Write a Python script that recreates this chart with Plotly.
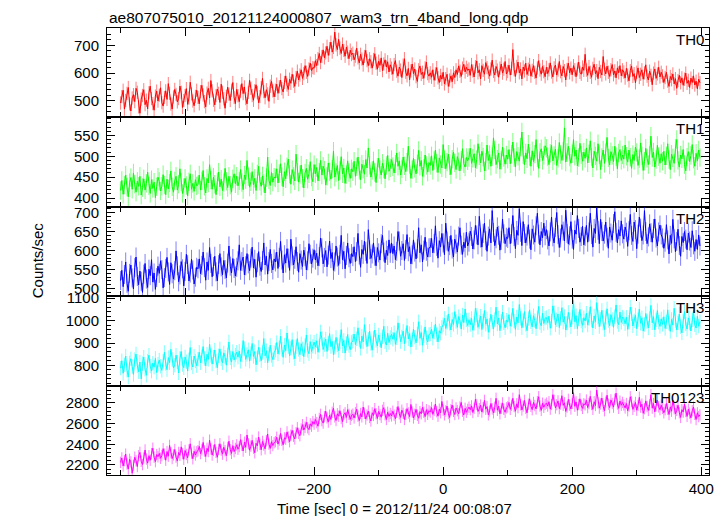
import plotly.graph_objects as go
from plotly.subplots import make_subplots

TITLE = "ae807075010_20121124000807_wam3_trn_4band_long.qdp"
X_TITLE = "Time [sec] 0 = 2012/11/24 00:08:07"
Y_TITLE = "Counts/sec"
BAND_NAMES = ["TH0", "TH1", "TH2", "TH3", "TH0123"]
T_START = -500
BIN_SEC = 2

TH0 = [
    492, 515, 538, 470, 501, 527, 548, 489, 463, 510, 522, 497, 545, 531, 478, 455, 506, 519, 540, 486, 502, 471, 529, 553, 508, 490, 466, 517, 535, 499,
    520, 547, 493, 481, 512, 536, 505, 562, 527, 488, 470, 514, 541, 523, 496, 508, 553, 531, 476, 501, 519, 544, 487, 510, 567, 525, 499, 482, 516, 538,
    512, 489, 533, 556, 521, 497, 478, 528, 545, 510, 573, 536, 502, 485, 519, 542, 527, 494, 560, 531, 507, 473, 516, 549, 524, 501, 538, 566, 512, 490,
    541, 518, 497, 535, 562, 526, 550, 508, 489, 530, 574, 545, 519, 502, 536, 558, 529, 493, 515, 547, 581, 533, 511, 540, 525, 498, 553, 570, 536, 514,
    538, 560, 527, 551, 575, 544, 532, 566, 590, 557, 541, 578, 563, 596, 571, 552, 584, 607, 575, 593, 612, 581, 598, 627, 603, 588, 615, 636, 609, 620,
    618, 645, 627, 652, 671, 638, 660, 684, 655, 673, 697, 664, 688, 712, 676, 693, 748, 702, 685, 722, 690, 671, 705, 682, 661, 694, 676, 652, 683, 667,
    672, 648, 661, 690, 655, 637, 668, 651, 629, 660, 682, 645, 627, 652, 641, 618, 649, 670, 636, 614, 643, 628, 655, 609, 633, 648, 622, 641, 604, 630,
    618, 596, 631, 645, 607, 589, 622, 611, 584, 629, 652, 603, 590, 617, 576, 608, 633, 598, 615, 587, 570, 612, 626, 595, 603, 581, 619, 640, 598, 589,
    601, 585, 612, 574, 597, 620, 583, 566, 592, 578, 603, 561, 580, 596, 552, 575, 590, 569, 601, 584, 612, 595, 626, 607, 588, 618, 632, 604, 621, 610,
    615, 592, 631, 608, 586, 623, 644, 601, 612, 579, 627, 610, 596, 638, 620, 603, 589, 615, 647, 606, 593, 624, 611, 585, 618, 633, 600, 614, 642, 597,
    606, 629, 593, 617, 685, 612, 588, 624, 640, 601, 615, 579, 622, 608, 636, 595, 614, 631, 589, 610, 627, 603, 582, 619, 645, 611, 596, 624, 605, 587,
    621, 598, 612, 637, 604, 586, 619, 629, 593, 611, 642, 605, 590, 624, 609, 575, 613, 636, 601, 618, 594, 627, 612, 587, 615, 640, 603, 596, 622, 610,
    668, 611, 592, 624, 603, 585, 617, 632, 598, 609, 580, 621, 606, 593, 660, 614, 597, 625, 603, 588, 612, 631, 594, 608, 583, 619, 601, 627, 590, 612,
    604, 582, 617, 593, 572, 609, 626, 588, 598, 565, 603, 619, 584, 596, 612, 578, 601, 630, 589, 575, 607, 592, 558, 600, 615, 581, 597, 621, 586, 603,
    590, 566, 584, 603, 571, 552, 588, 576, 597, 561, 580, 545, 573, 592, 565, 583, 556, 578, 600, 563, 574, 548, 582, 566, 590, 557, 571, 543, 578, 565,
]

TH1 = [
    418, 442, 409, 431, 455, 426, 403, 437, 449, 421, 460, 433, 414, 440, 428, 452, 407, 425, 446, 419, 435, 462, 429, 411, 444, 423, 438, 401, 427, 450,
    440, 417, 428, 456, 431, 408, 445, 422, 436, 465, 427, 414, 441, 452, 419, 433, 470, 438, 411, 425, 447, 430, 405, 439, 458, 421, 435, 416, 444, 429,
    432, 455, 419, 441, 466, 428, 412, 447, 436, 480, 443, 421, 450, 433, 408, 439, 462, 427, 445, 418, 437, 471, 440, 425, 452, 431, 414, 446, 458, 434,
    452, 429, 441, 468, 437, 420, 455, 444, 490, 451, 426, 439, 463, 432, 447, 418, 458, 476, 440, 428, 453, 435, 412, 449, 498, 443, 430, 461, 438, 450,
    448, 470, 436, 459, 482, 451, 427, 463, 446, 475, 493, 457, 433, 468, 452, 441, 505, 462, 438, 456, 479, 447, 424, 460, 471, 445, 458, 487, 450, 439,
    480, 458, 473, 441, 462, 490, 455, 476, 467, 431, 452, 484, 463, 445, 469, 512, 450, 461, 478, 442, 466, 499, 458, 472, 435, 456, 489, 461, 447, 470,
    463, 488, 452, 475, 498, 466, 444, 481, 469, 457, 492, 472, 520, 478, 450, 466, 489, 461, 437, 474, 495, 468, 455, 483, 470, 446, 478, 502, 464, 472,
    492, 475, 460, 481, 508, 476, 489, 455, 470, 498, 477, 463, 486, 524, 480, 447, 468, 495, 471, 458, 482, 514, 476, 490, 452, 471, 503, 478, 462, 485,
    478, 501, 466, 490, 515, 483, 461, 496, 480, 472, 528, 492, 470, 486, 505, 477, 456, 493, 510, 484, 468, 499, 487, 465, 491, 518, 482, 474, 497, 489,
    497, 519, 483, 495, 506, 472, 492, 530, 501, 484, 512, 498, 465, 486, 527, 490, 504, 476, 499, 544, 515, 480, 493, 508, 469, 490, 522, 497, 481, 503,
    493, 516, 482, 505, 534, 497, 474, 511, 500, 488, 522, 558, 503, 480, 508, 494, 529, 499, 476, 513, 487, 505, 540, 496, 471, 509, 518, 490, 502, 525,
    519, 499, 480, 507, 526, 489, 502, 517, 478, 495, 533, 504, 490, 512, 568, 486, 509, 524, 498, 483, 506, 540, 500, 515, 477, 497, 531, 503, 488, 510,
    495, 520, 484, 506, 537, 498, 472, 512, 501, 488, 530, 504, 468, 497, 515, 483, 509, 545, 496, 479, 511, 502, 487, 524, 499, 470, 508, 516, 490, 503,
    493, 527, 500, 486, 515, 498, 471, 504, 490, 522, 509, 478, 494, 532, 501, 466, 488, 519, 495, 480, 503, 548, 497, 510, 474, 492, 526, 499, 483, 506,
    488, 512, 479, 501, 530, 492, 468, 505, 496, 483, 519, 540, 490, 474, 503, 494, 516, 480, 465, 498, 511, 487, 502, 528, 493, 476, 507, 489, 515, 497,
]

TH2 = [
    521, 548, 505, 537, 570, 514, 493, 540, 562, 528, 499, 555, 583, 532, 510, 546, 519, 490, 538, 566, 525, 503, 551, 534, 576, 517, 541, 498, 529, 559,
    540, 573, 550, 502, 529, 553, 582, 544, 511, 568, 539, 525, 547, 599, 560, 518, 536, 571, 552, 507, 545, 590, 563, 520, 541, 577, 549, 512, 530, 556,
    552, 578, 539, 561, 596, 555, 522, 570, 548, 608, 566, 531, 558, 585, 544, 520, 563, 592, 557, 536, 574, 550, 528, 567, 612, 559, 541, 579, 553, 533,
    556, 573, 615, 548, 571, 583, 536, 560, 592, 565, 547, 580, 609, 554, 577, 530, 568, 597, 559, 545, 574, 620, 562, 585, 538, 571, 603, 566, 549, 578,
    570, 596, 553, 582, 624, 575, 541, 589, 567, 605, 580, 548, 630, 586, 562, 577, 610, 571, 543, 592, 575, 558, 601, 584, 549, 573, 618, 590, 565, 580,
    602, 575, 593, 560, 584, 633, 607, 565, 582, 600, 557, 588, 625, 579, 595, 548, 570, 612, 583, 561, 590, 640, 576, 598, 552, 587, 620, 581, 566, 592,
    584, 610, 571, 597, 645, 588, 556, 603, 590, 625, 598, 566, 655, 602, 579, 591, 620, 585, 560, 608, 594, 575, 618, 640, 596, 568, 601, 587, 628, 593,
    620, 592, 612, 576, 598, 650, 625, 585, 600, 618, 574, 603, 642, 597, 610, 565, 589, 628, 596, 578, 605, 660, 594, 615, 570, 601, 635, 598, 583, 607,
    608, 632, 594, 618, 665, 611, 580, 626, 609, 645, 620, 589, 672, 625, 598, 613, 640, 604, 583, 630, 617, 596, 638, 660, 614, 590, 622, 607, 648, 612,
    622, 651, 637, 604, 628, 666, 641, 615, 690, 633, 609, 645, 672, 626, 598, 638, 657, 620, 705, 648, 613, 631, 662, 640, 601, 627, 683, 644, 618, 635,
    632, 660, 618, 644, 692, 637, 605, 653, 640, 710, 648, 613, 676, 645, 620, 638, 668, 630, 602, 657, 641, 622, 665, 698, 643, 615, 650, 633, 672, 639,
    655, 628, 612, 649, 688, 636, 620, 661, 700, 642, 608, 633, 668, 651, 625, 706, 645, 617, 639, 676, 630, 603, 654, 643, 692, 658, 622, 637, 664, 615,
    637, 666, 622, 649, 698, 642, 609, 658, 645, 712, 653, 618, 682, 650, 625, 643, 675, 635, 606, 662, 646, 627, 671, 702, 648, 620, 655, 638, 678, 644,
    630, 662, 648, 611, 652, 695, 640, 624, 675, 655, 605, 643, 688, 659, 626, 641, 705, 650, 618, 636, 670, 647, 622, 658, 683, 633, 612, 649, 667, 641,
    633, 606, 622, 668, 628, 591, 640, 619, 682, 631, 597, 624, 656, 613, 585, 637, 621, 650, 630, 602, 646, 625, 608, 652, 615, 598, 629, 603, 641, 612,
]

TH3 = [
    788, 821, 765, 803, 842, 779, 748, 812, 830, 795, 760, 826, 851, 799, 772, 815, 740, 808, 837, 783, 756, 819, 846, 797, 775, 810, 792, 832, 768, 805,
    824, 796, 778, 819, 858, 808, 781, 835, 812, 872, 827, 789, 801, 846, 815, 767, 831, 862, 804, 790, 838, 817, 775, 826, 880, 811, 793, 842, 820, 799,
    828, 859, 812, 840, 884, 831, 798, 850, 827, 895, 845, 806, 838, 869, 820, 790, 843, 874, 829, 812, 856, 837, 801, 848, 905, 833, 815, 862, 824, 846,
    859, 837, 864, 818, 846, 911, 875, 827, 849, 870, 819, 853, 898, 840, 862, 803, 835, 881, 847, 821, 858, 920, 843, 866, 812, 851, 890, 844, 826, 857,
    868, 902, 851, 879, 930, 872, 836, 891, 866, 945, 884, 843, 877, 915, 859, 830, 883, 920, 871, 848, 897, 874, 839, 889, 936, 867, 852, 906, 862, 885,
    904, 882, 910, 859, 888, 950, 920, 871, 893, 918, 862, 899, 942, 884, 907, 848, 880, 925, 891, 866, 905, 960, 887, 912, 855, 898, 938, 889, 870, 903,
    908, 940, 893, 919, 968, 912, 876, 931, 905, 982, 924, 884, 917, 953, 898, 868, 922, 958, 911, 887, 936, 914, 879, 928, 975, 906, 891, 944, 902, 925,
    939, 917, 946, 894, 923, 990, 957, 906, 928, 953, 897, 934, 978, 918, 942, 882, 915, 962, 926, 901, 940, 995, 921, 947, 890, 933, 972, 924, 905, 938,
    940, 962, 921, 948, 985, 937, 905, 955, 944, 970, 982, 1010, 965, 992, 1030, 988, 958, 1005, 983, 1040, 996, 970, 1018, 1000, 962, 1025, 991, 1052, 1003, 978,
    1004, 982, 1010, 957, 988, 1055, 1025, 970, 994, 1020, 960, 999, 1045, 984, 1008, 948, 979, 1028, 993, 963, 1005, 1060, 985, 1012, 955, 997, 1038, 990, 968, 1002,
    993, 1027, 975, 1004, 1055, 998, 961, 1016, 990, 1072, 1010, 968, 1001, 1040, 983, 955, 1009, 1048, 995, 972, 1022, 1000, 964, 1013, 1063, 991, 977, 1033, 987, 1011,
    1014, 991, 1020, 966, 998, 1066, 1035, 981, 1004, 1030, 969, 1010, 1058, 993, 1018, 958, 988, 1037, 1001, 972, 1015, 1090, 995, 1022, 964, 1008, 1050, 998, 979, 1013,
    998, 1033, 980, 1009, 1062, 1002, 967, 1021, 995, 1080, 1016, 973, 1006, 1046, 988, 960, 1014, 1053, 1000, 976, 1027, 1005, 970, 1018, 1070, 996, 982, 1038, 992, 1016,
    1009, 986, 1015, 961, 993, 1060, 1030, 976, 999, 1025, 964, 1005, 1052, 988, 1013, 953, 983, 1032, 996, 967, 1010, 1068, 990, 1017, 959, 1003, 1045, 993, 974, 1008,
    983, 1017, 965, 994, 1048, 988, 952, 1006, 980, 1055, 1000, 958, 991, 1030, 973, 945, 999, 1040, 985, 962, 1012, 990, 954, 1003, 1045, 981, 967, 1020, 975, 996,
]

TH0123 = [
    2225, 2268, 2190, 2242, 2305, 2210, 2160, 2255, 2230, 2120, 2198, 2275, 2240, 2185, 2290, 2322, 2236, 2204, 2268, 2345, 2257, 2218, 2290, 2246, 2310, 2362, 2275, 2232, 2301, 2280,
    2312, 2265, 2290, 2358, 2305, 2246, 2330, 2285, 2390, 2318, 2262, 2297, 2350, 2276, 2238, 2321, 2293, 2375, 2310, 2255, 2340, 2302, 2270, 2345, 2405, 2315, 2260, 2332, 2296, 2328,
    2338, 2380, 2310, 2347, 2418, 2335, 2282, 2362, 2330, 2440, 2355, 2296, 2341, 2398, 2322, 2275, 2350, 2405, 2343, 2305, 2372, 2338, 2290, 2366, 2430, 2348, 2312, 2387, 2329, 2360,
    2395, 2352, 2378, 2445, 2390, 2335, 2420, 2371, 2490, 2405, 2343, 2382, 2438, 2362, 2318, 2410, 2385, 2470, 2399, 2347, 2428, 2392, 2356, 2435, 2500, 2402, 2360, 2425, 2388, 2415,
    2425, 2468, 2402, 2440, 2505, 2438, 2395, 2462, 2450, 2520, 2470, 2425, 2488, 2535, 2478, 2452, 2512, 2560, 2505, 2483, 2548, 2590, 2538, 2565, 2612, 2560, 2542, 2598, 2575, 2620,
    2595, 2640, 2610, 2575, 2650, 2690, 2628, 2605, 2668, 2720, 2655, 2615, 2682, 2640, 2710, 2748, 2665, 2630, 2695, 2672, 2725, 2650, 2618, 2688, 2705, 2660, 2735, 2690, 2642, 2680,
    2692, 2655, 2705, 2740, 2672, 2630, 2698, 2665, 2760, 2700, 2645, 2683, 2722, 2660, 2625, 2705, 2679, 2745, 2695, 2650, 2718, 2688, 2662, 2728, 2755, 2685, 2640, 2710, 2670, 2698,
    2675, 2720, 2682, 2648, 2708, 2765, 2695, 2660, 2730, 2700, 2640, 2688, 2745, 2703, 2668, 2785, 2712, 2655, 2690, 2738, 2680, 2652, 2716, 2695, 2758, 2710, 2668, 2735, 2690, 2725,
    2712, 2755, 2690, 2728, 2790, 2715, 2672, 2740, 2705, 2815, 2730, 2685, 2722, 2770, 2698, 2660, 2735, 2780, 2718, 2688, 2752, 2725, 2695, 2760, 2805, 2720, 2683, 2748, 2710, 2738,
    2760, 2735, 2772, 2708, 2748, 2835, 2785, 2718, 2745, 2780, 2712, 2755, 2825, 2740, 2765, 2685, 2722, 2795, 2742, 2705, 2758, 2845, 2730, 2770, 2695, 2748, 2800, 2738, 2710, 2752,
    2762, 2805, 2738, 2778, 2845, 2765, 2720, 2792, 2755, 2880, 2782, 2732, 2770, 2825, 2748, 2705, 2788, 2840, 2768, 2735, 2805, 2775, 2742, 2812, 2860, 2770, 2728, 2798, 2758, 2785,
    2798, 2770, 2812, 2740, 2785, 2880, 2825, 2752, 2783, 2820, 2745, 2790, 2870, 2777, 2802, 2718, 2760, 2835, 2780, 2742, 2795, 2900, 2768, 2810, 2730, 2785, 2840, 2775, 2748, 2792,
    2782, 2828, 2755, 2795, 2865, 2785, 2738, 2812, 2775, 2925, 2802, 2750, 2790, 2848, 2768, 2725, 2808, 2875, 2788, 2755, 2830, 2795, 2760, 2835, 2895, 2790, 2748, 2818, 2778, 2805,
    2780, 2752, 2795, 2725, 2770, 2860, 2812, 2738, 2768, 2805, 2730, 2775, 2855, 2760, 2788, 2700, 2745, 2820, 2765, 2728, 2782, 2880, 2750, 2795, 2715, 2772, 2828, 2762, 2735, 2778,
    2748, 2705, 2735, 2795, 2740, 2688, 2762, 2720, 2830, 2745, 2695, 2728, 2778, 2705, 2660, 2735, 2712, 2790, 2718, 2670, 2740, 2702, 2655, 2725, 2760, 2690, 2640, 2705, 2668, 2685,
]

ERRORS = [24, 22, 25, 32, 55]
SERIES = [TH0, TH1, TH2, TH3, TH0123]
COLORS = ["#ff0000", "#00ff00", "#0000ff", "#00ffff", "#ff00ff"]
ERR_COLORS = ["rgba(255,0,0,0.5)", "rgba(0,255,0,0.5)", "rgba(0,0,255,0.5)",
              "rgba(0,255,255,0.5)", "rgba(255,0,255,0.5)"]
Y_RANGES = [[440, 763], [379, 593], [480, 715], [710, 1109], [2103, 2968]]
Y_DTICK = [100, 50, 50, 100, 200]
Y_MINOR = [20, 10, 10, 20, 40]
X_RANGE = [-521, 412]

FONT = "Liberation Sans, Arial, Helvetica, sans-serif"

fig = make_subplots(rows=5, cols=1, shared_xaxes=True, vertical_spacing=0)

for i, vals in enumerate(SERIES):
    t = [T_START + BIN_SEC * k for k in range(len(vals))]
    fig.add_trace(go.Scatter(
        x=t, y=vals, mode="lines",
        line=dict(color=COLORS[i], width=1),
        error_y=dict(type="constant", value=ERRORS[i], color=ERR_COLORS[i],
                     thickness=1, width=0),
        showlegend=False, hoverinfo="skip",
    ), row=i + 1, col=1)

axis_common = dict(
    showline=True, linecolor="black", linewidth=1, mirror="allticks",
    ticks="inside", ticklen=8, tickwidth=1, tickcolor="black",
    showgrid=False, zeroline=False,
    tickfont=dict(family=FONT, size=15, color="black"),
)

for i in range(5):
    fig.update_xaxes(
        range=X_RANGE, tick0=0, dtick=200,
        minor=dict(dtick=100, tick0=0, ticks="inside", ticklen=5, tickcolor="black", showgrid=False),
        showticklabels=(i == 4),
        **axis_common, row=i + 1, col=1)
    fig.update_yaxes(
        range=Y_RANGES[i], tick0=0, dtick=Y_DTICK[i],
        minor=dict(dtick=Y_MINOR[i], tick0=0, ticks="inside", ticklen=4, tickcolor="black", showgrid=False),
        ticklabelstandoff=4,
        **axis_common, row=i + 1, col=1)

annotations = []
for i, name in enumerate(BAND_NAMES):
    top = 1.0 - 0.2 * i
    annotations.append(dict(
        text=name, xref="paper", yref="paper", x=1, y=top,
        xanchor="right", yanchor="top", xshift=-3, yshift=-1, showarrow=False,
        font=dict(family=FONT, size=15, color="black")))

annotations.append(dict(
    text=TITLE, xref="paper", yref="paper", x=0, y=1, xanchor="left", yanchor="bottom",
    showarrow=False, font=dict(family=FONT, size=15.5, color="black")))
annotations.append(dict(
    text=X_TITLE, xref="paper", yref="paper", x=0.477, y=0, xanchor="center", yanchor="middle",
    yshift=-33, showarrow=False, font=dict(family=FONT, size=15, color="black")))
annotations.append(dict(
    text=Y_TITLE, xref="paper", yref="paper", x=-0.115, y=0.48, xanchor="center", yanchor="middle",
    textangle=-90, showarrow=False, font=dict(family=FONT, size=15, color="black")))

fig.update_layout(
    width=724, height=516,
    margin=dict(l=107, r=10, t=28, b=41),
    paper_bgcolor="white", plot_bgcolor="white",
    annotations=annotations,
    font=dict(family=FONT, size=15, color="black"),
)

fig.write_html("out.html", config={"displayModeBar": False},
               post_script="document.body.style.margin='0px';")
